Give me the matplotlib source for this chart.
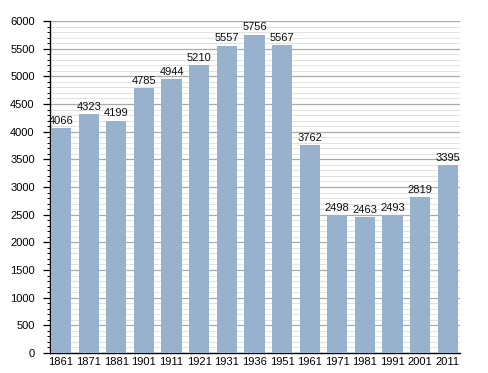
import matplotlib
matplotlib.use("Agg")
import matplotlib.pyplot as plt
from matplotlib.ticker import MultipleLocator

years = ["1861", "1871", "1881", "1901", "1911", "1921", "1931", "1936", "1951", "1961", "1971", "1981", "1991", "2001", "2011"]
values = [4066, 4323, 4199, 4785, 4944, 5210, 5557, 5756, 5567, 3762, 2498, 2463, 2493, 2819, 3395]

plt.rcParams['font.family'] = ['Liberation Sans', 'DejaVu Sans']
fig = plt.figure(figsize=(4.88, 3.73), dpi=100)
ax = fig.add_axes([0.1025, 0.0536, 0.840, 0.890])

x = list(range(len(years)))
ax.bar(x, values, width=0.73, color="#98b2cd", zorder=3)
for xi, v in zip(x, values):
    ax.text(xi, v + 40, str(v), ha="center", va="bottom", fontsize=8, color="#111111", zorder=4)

ax.set_ylim(0, 6000)
ax.set_xlim(-0.40, len(years) - 1 + 0.44)
ax.yaxis.set_major_locator(MultipleLocator(500))
ax.yaxis.set_minor_locator(MultipleLocator(100))
ax.grid(which="major", axis="y", color="#aaaaaa", linewidth=0.9, zorder=0)
ax.grid(which="minor", axis="y", color="#dddddd", linewidth=0.6, zorder=0)
ax.set_xticks(x)
ax.set_xticklabels(years, fontsize=8)
ax.tick_params(axis="x", length=0, pad=3)
ax.tick_params(axis="y", which="major", length=5, width=0.9, labelsize=8, pad=6)
ax.tick_params(axis="y", which="minor", length=2.5, width=0.7)
for s in ["top", "right"]:
    ax.spines[s].set_visible(False)
ax.spines["left"].set_linewidth(1)
ax.spines["bottom"].set_linewidth(1)

fig.savefig("out.png", dpi=100)
